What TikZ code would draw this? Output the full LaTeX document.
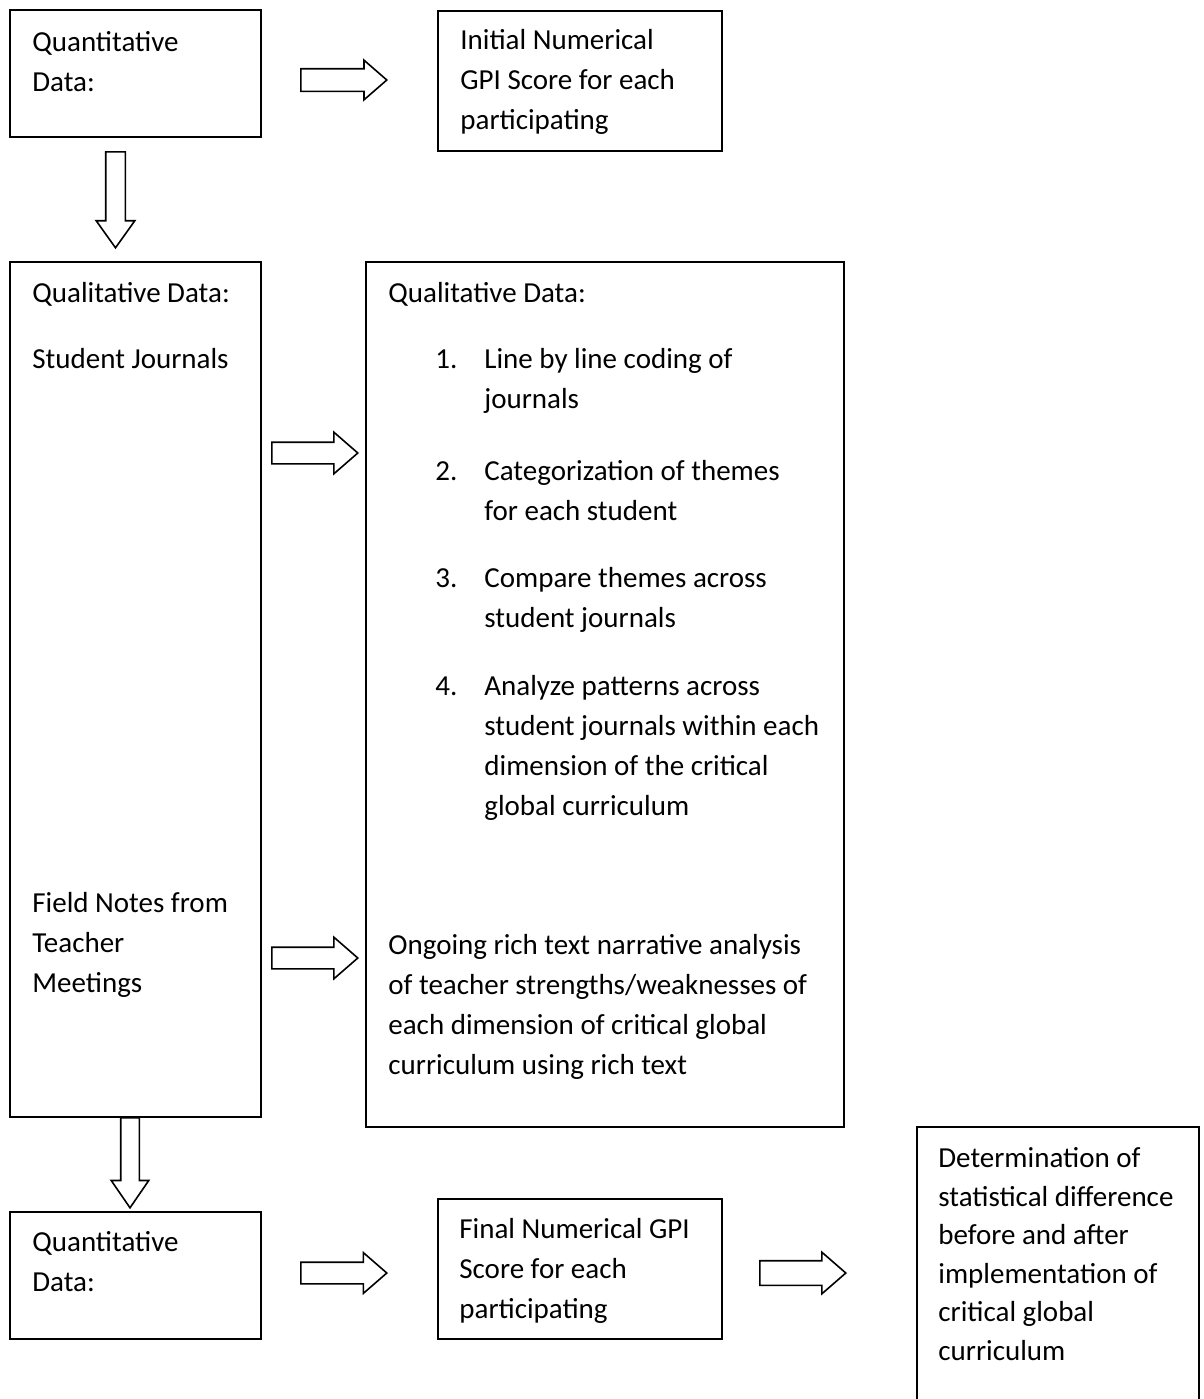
\documentclass[tikz,border=0pt]{standalone}
\usepackage{fontspec}
\setmainfont{Carlito}
\usepackage{tikz}
\usetikzlibrary{shapes.arrows,positioning,fit}

\begin{document}
\begin{tikzpicture}[x=0.5pt, y=-0.5pt,
    box/.style={draw, line width=1pt, inner sep=0pt},
    % anchored at the baseline of the last line
    txt/.style={anchor=base west, inner sep=0pt, align=left,
        font=\fontsize{14.5}{20}\selectfont},
    blockarrow/.style={single arrow, draw, line width=0.8pt, anchor=tail,
        inner xsep=0pt, inner ysep=5pt, minimum width=0pt,
        single arrow head indent=0pt, minimum height=43pt,
        single arrow head extend=5pt, single arrow tip angle=82},
    downarrow/.style={blockarrow, rotate=-90, single arrow tip angle=71},
]
    \clip (0,0) rectangle (1204,1399);

    % boxes
    \node[box, fit={(10,10) (261,137)}] (quantA) {};
    \node[box, fit={(438,11) (722,151)}] (initGPI) {};
    \node[box, fit={(10,262) (261,1117)}] (qualC) {};
    \node[box, fit={(366,262) (844,1127)}] (qualD) {};
    \node[box, fit={(10,1212) (261,1339)}] (quantE) {};
    \node[box, fit={(438,1199) (722,1339)}] (finalGPI) {};
    \node[box, fit={(917,1127) (1199,1420)}] (diffG) {};

    % block arrows (placed by their tails)
    \node[blockarrow, inner ysep=5.25pt, single arrow head extend=4.25pt] (arAB) at (300,80) {};
    \node[downarrow, minimum height=48pt, inner ysep=4.5pt, single arrow head extend=4.75pt] (arAC) at (115.5,151) {};
    \node[blockarrow] (arCD1) at (271,453) {};
    \node[blockarrow] (arCD2) at (271,958) {};
    \node[downarrow, minimum height=45pt, inner ysep=4.25pt, single arrow head extend=4.75pt, single arrow tip angle=69] (arCE) at (130,1117) {};
    \node[blockarrow, single arrow head extend=4.75pt] (arEF) at (300,1273) {};
    \node[blockarrow, inner ysep=5.75pt, single arrow head extend=4.25pt] (arFG) at (759,1273) {};

    % texts
    \node[txt] (tA) at (32,91) {Quantitative\\Data:};
    \node[txt] (tB) at (460,129) {Initial Numerical\\GPI Score for each\\participating};
    \node[txt] (tC1) at (32,302) {Qualitative Data:};
    \node[txt] (tC2) at (32,368) {Student Journals};
    \node[txt] (tC3) at (32,992) {Field Notes from\\Teacher\\Meetings};
    \node[txt] (tD) at (388,302) {Qualitative Data:};
    \node[txt] (n1) at (435,368) {1.};
    \node[txt] (i1) at (484,408) {Line by line coding of\\journals};
    \node[txt] (n2) at (435,480) {2.};
    \node[txt] (i2) at (484,520) {Categorization of themes\\for each student};
    \node[txt] (n3) at (435,587) {3.};
    \node[txt] (i3) at (484,627) {Compare themes across\\student journals};
    \node[txt] (n4) at (435,695) {4.};
    \node[txt] (i4) at (484,815) {Analyze patterns across\\student journals within each\\dimension of the critical\\global curriculum};
    \node[txt] (tD2) at (388,1074) {Ongoing rich text narrative analysis\\of teacher strengths/weaknesses of\\each dimension of critical global\\curriculum using rich text};
    \node[txt] (tE) at (32,1291) {Quantitative\\Data:};
    \node[txt] (tF) at (459,1318) {Final Numerical GPI\\Score for each\\participating};
    \node[txt, font=\fontsize{14.5}{19.25}\selectfont] (tG) at (938,1360) {Determination of\\statistical difference\\before and after\\implementation of\\critical global\\curriculum};
\end{tikzpicture}
\end{document}
